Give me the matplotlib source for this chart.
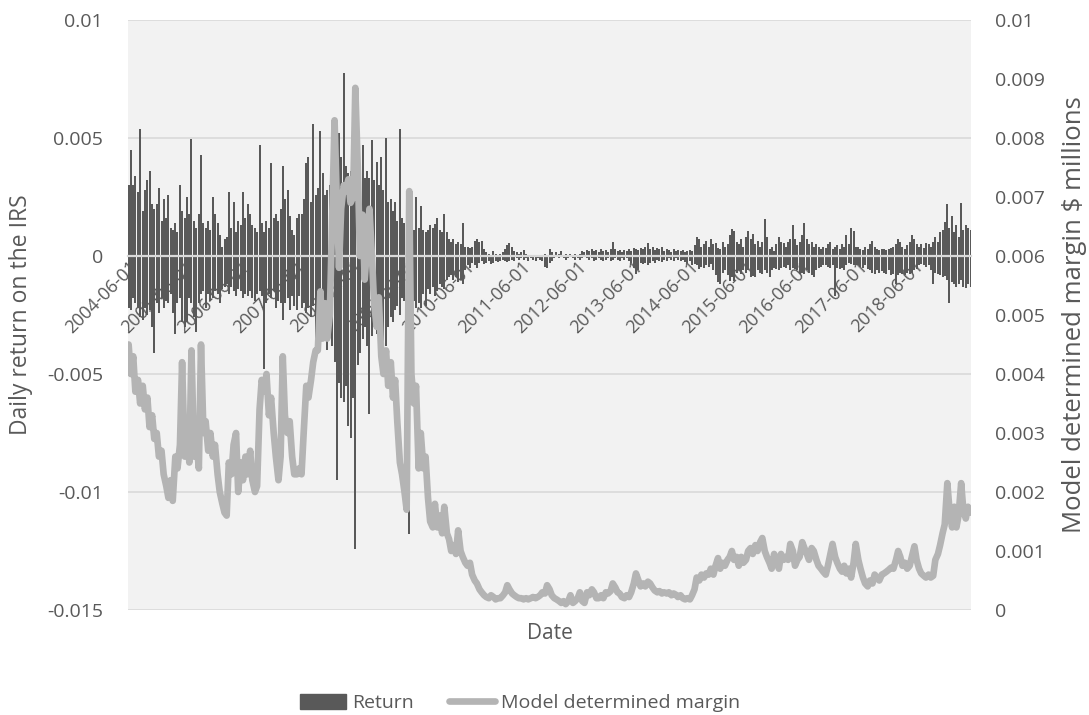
import numpy as np
import pandas as pd
import matplotlib
matplotlib.use('Agg')
import matplotlib.pyplot as plt
from matplotlib.patches import Patch
from matplotlib.lines import Line2D

plt.rcParams['font.family'] = ['Open Sans', 'DejaVu Sans']

# semi-monthly readings, 2004-06-01 .. 2019-06-01 (one row per year)
dates = pd.date_range('2004-06-01', periods=361, freq='SMS')

# model determined margin ($ millions, in units of 0.001)
margin = [
    4.5, 4.0, 4.3, 3.7, 3.9, 3.5, 3.8, 3.4, 3.6, 3.1, 3.3, 2.9, 3.0, 2.6, 2.7, 2.3, 2.1, 1.9, 2.2, 1.85, 2.6, 2.4, 2.8, 4.2,
    2.6, 3.2, 2.5, 4.4, 2.6, 2.9, 2.4, 4.5, 3.0, 3.2, 2.7, 3.0, 2.6, 2.8, 2.3, 2.0, 1.8, 1.65, 1.6, 2.5, 2.3, 2.8, 3.0, 2.0,
    2.5, 2.2, 2.6, 2.3, 2.7, 2.2, 2.0, 2.1, 3.4, 3.9, 3.7, 4.0, 3.3, 3.6, 3.0, 2.6, 2.2, 2.6, 4.3, 3.3, 3.0, 3.2, 2.6, 2.3,
    2.3, 2.4, 2.3, 3.0, 3.8, 3.6, 3.9, 4.2, 4.4, 4.4, 5.4, 4.6, 5.2, 4.6, 5.0, 6.5, 8.3, 7.0, 5.8, 6.8, 7.2, 7.1, 7.3, 6.9,
    7.0, 8.85, 7.5, 6.0, 6.7, 5.6, 6.2, 6.8, 6.0, 5.2, 4.8, 5.3, 4.3, 4.0, 4.4, 3.8, 4.2, 3.6, 3.9, 3.2, 2.5, 2.3, 2.0, 1.7,
    7.1, 4.0, 3.5, 3.8, 2.4, 3.0, 2.4, 2.6, 1.9, 1.5, 1.4, 1.8, 1.4, 1.6, 1.3, 1.75, 1.3, 1.2, 1.0, 1.1, 0.95, 1.35, 1.0, 0.9,
    0.8, 0.75, 0.8, 0.6, 0.5, 0.45, 0.35, 0.3, 0.25, 0.22, 0.2, 0.25, 0.22, 0.18, 0.2, 0.2, 0.25, 0.3, 0.42, 0.35, 0.28, 0.25, 0.22, 0.2,
    0.2, 0.18, 0.2, 0.18, 0.2, 0.22, 0.2, 0.22, 0.25, 0.3, 0.28, 0.42, 0.35, 0.25, 0.2, 0.18, 0.15, 0.12, 0.15, 0.1, 0.15, 0.25, 0.12, 0.15,
    0.2, 0.3, 0.15, 0.12, 0.3, 0.25, 0.35, 0.3, 0.2, 0.2, 0.25, 0.2, 0.3, 0.28, 0.32, 0.45, 0.38, 0.3, 0.28, 0.22, 0.2, 0.25, 0.22, 0.3,
    0.45, 0.62, 0.5, 0.4, 0.45, 0.4, 0.48, 0.45, 0.38, 0.33, 0.3, 0.32, 0.28, 0.3, 0.28, 0.3, 0.25, 0.28, 0.26, 0.22, 0.25, 0.2, 0.18, 0.2,
    0.18, 0.25, 0.35, 0.55, 0.5, 0.6, 0.55, 0.62, 0.6, 0.7, 0.6, 0.75, 0.88, 0.7, 0.8, 0.75, 0.85, 0.9, 1.0, 0.85, 0.9, 0.75, 0.9, 0.8,
    0.85, 1.0, 1.05, 0.95, 1.1, 1.0, 1.15, 1.22, 1.0, 0.9, 0.8, 0.7, 0.95, 0.85, 0.7, 0.95, 0.85, 0.9, 0.85, 1.12, 1.0, 0.75, 0.85, 0.9,
    1.15, 1.05, 0.95, 0.85, 1.05, 1.0, 0.85, 0.75, 0.7, 0.65, 0.6, 0.75, 0.95, 1.12, 0.9, 0.8, 0.7, 0.65, 0.75, 0.62, 0.7, 0.55, 0.8, 1.12,
    0.85, 0.7, 0.55, 0.45, 0.4, 0.5, 0.45, 0.6, 0.55, 0.5, 0.6, 0.62, 0.65, 0.68, 0.72, 0.7, 0.85, 1.0, 0.9, 0.75, 0.8, 0.7, 0.75, 0.9,
    1.08, 0.85, 0.7, 0.62, 0.58, 0.55, 0.6, 0.55, 0.58, 0.85, 0.95, 1.1, 1.3, 1.45, 2.15, 1.7, 1.4, 1.75, 1.4, 1.6, 2.15, 1.7, 1.55, 1.75,
    1.65,
]

# largest positive daily return in each half-month (units of 0.001)
ret_up = [
    3.0, 4.5, 3.0, 3.4, 2.7, 5.4, 1.9, 2.8, 3.2, 3.6, 2.2, 2.0, 2.2, 2.9, 1.5, 2.4, 1.6, 2.6, 1.2, 1.1, 1.4, 1.0, 3.0, 1.9,
    1.6, 2.5, 1.8, 4.95, 1.5, 1.2, 1.8, 4.3, 1.4, 1.2, 1.5, 1.1, 2.5, 1.8, 1.4, 0.9, 0.4, 0.7, 0.8, 2.7, 1.2, 2.3, 1.0, 1.5,
    1.3, 2.7, 1.6, 2.2, 1.8, 1.3, 1.2, 1.0, 4.7, 1.4, 1.0, 1.5, 1.2, 3.95, 1.6, 1.8, 1.5, 2.0, 3.8, 2.4, 2.8, 1.7, 1.1, 0.9,
    1.6, 1.8, 1.8, 2.4, 3.95, 4.2, 2.3, 5.6, 2.6, 2.9, 5.3, 3.5, 2.6, 2.8, 3.0, 3.2, 3.5, 4.5, 5.2, 4.2, 7.75, 3.8, 3.5, 3.6,
    3.4, 3.0, 3.6, 3.2, 4.7, 3.3, 3.6, 3.3, 4.9, 3.2, 4.0, 3.0, 4.2, 2.8, 5.0, 2.3, 2.4, 1.9, 2.3, 1.5, 5.4, 1.6, 1.4, 1.3,
    1.2, 1.4, 1.1, 2.5, 1.2, 2.1, 1.1, 1.0, 1.1, 1.3, 1.2, 1.35, 1.6, 1.1, 1.0, 1.8, 1.0, 0.7, 0.6, 0.7, 0.5, 0.6, 0.5, 1.4,
    0.4, 0.4, 0.35, 0.4, 0.65, 0.7, 0.6, 0.65, 0.3, 0.15, 0.1, 0.05, 0.2, 0.1, 0.05, 0.1, 0.15, 0.3, 0.45, 0.55, 0.4, 0.2, 0.15, 0.1,
    0.15, 0.25, 0.1, 0.05, 0.05, 0.05, 0.03, 0.05, 0.02, 0.05, 0.1, 0.05, 0.3, 0.15, 0.05, 0.15, 0.1, 0.2, 0.05, 0.1, 0.05, 0.1, 0.05, 0.1,
    0.05, 0.1, 0.2, 0.15, 0.25, 0.2, 0.3, 0.2, 0.25, 0.15, 0.3, 0.2, 0.25, 0.15, 0.3, 0.6, 0.3, 0.2, 0.25, 0.15, 0.25, 0.2, 0.3, 0.2,
    0.35, 0.3, 0.25, 0.35, 0.3, 0.4, 0.55, 0.3, 0.4, 0.25, 0.35, 0.3, 0.4, 0.2, 0.3, 0.25, 0.15, 0.3, 0.2, 0.25, 0.2, 0.25, 0.15, 0.2,
    0.25, 0.2, 0.45, 0.8, 0.7, 0.4, 0.5, 0.65, 0.4, 0.7, 0.5, 0.55, 0.35, 0.3, 0.6, 0.4, 0.5, 0.9, 1.14, 1.05, 0.6, 0.5, 0.7, 0.4,
    0.8, 1.05, 0.7, 0.95, 0.5, 0.65, 0.4, 0.6, 1.56, 0.8, 0.3, 0.4, 0.2, 0.5, 0.8, 0.6, 0.55, 0.4, 0.6, 0.7, 1.3, 0.7, 0.45, 0.6,
    0.9, 1.4, 0.7, 0.5, 0.6, 0.4, 0.5, 0.4, 0.3, 0.4, 0.35, 0.5, 0.6, 0.3, 0.4, 0.45, 0.3, 0.5, 0.4, 0.9, 0.5, 1.2, 1.05, 0.4,
    0.4, 0.3, 0.25, 0.4, 0.3, 0.5, 0.65, 0.4, 0.3, 0.25, 0.3, 0.3, 0.25, 0.3, 0.35, 0.4, 0.5, 0.7, 0.6, 0.4, 0.3, 0.45, 0.6, 0.9,
    0.7, 0.5, 0.4, 0.5, 0.35, 0.55, 0.5, 0.4, 0.6, 0.8, 0.6, 1.0, 1.1, 1.45, 2.2, 1.2, 1.7, 1.0, 1.3, 0.8, 2.25, 1.1, 1.3, 1.2,
    1.1,
]

# largest negative daily return in each half-month (size, units of 0.001)
ret_down = [
    2.2, 2.3, 1.8, 2.0, 2.2, 2.6, 2.7, 2.2, 2.5, 2.3, 3.0, 4.1, 2.0, 2.4, 1.8, 2.2, 1.9, 2.0, 1.6, 2.4, 3.3, 2.0, 1.8, 2.8,
    3.0, 2.8, 1.8, 2.0, 2.6, 3.2, 2.0, 1.6, 1.5, 2.2, 1.6, 1.9, 1.8, 1.5, 1.6, 2.0, 1.4, 1.3, 1.2, 1.6, 1.3, 1.5, 1.7, 1.4,
    1.5, 1.8, 1.6, 1.7, 1.5, 1.8, 1.9, 1.6, 1.5, 1.7, 4.8, 2.0, 1.6, 1.8, 1.5, 2.2, 1.9, 2.0, 2.7, 2.0, 1.8, 2.3, 1.7, 2.1,
    2.3, 1.7, 2.2, 2.0, 2.4, 2.2, 2.6, 2.1, 3.9, 2.8, 2.5, 3.3, 3.6, 4.0, 3.4, 3.8, 4.5, 9.5, 5.4, 6.0, 6.2, 5.5, 7.2, 7.7,
    6.0, 12.4, 4.6, 4.1, 3.5, 3.0, 3.8, 6.7, 3.4, 3.0, 3.3, 3.8, 3.0, 4.4, 3.8, 3.0, 2.6, 2.8, 2.3, 2.1, 2.5, 1.8, 1.9, 1.6,
    11.8, 2.0, 1.9, 2.2, 2.0, 2.2, 1.6, 2.1, 1.4, 1.6, 1.3, 1.7, 1.5, 1.2, 1.3, 1.4, 1.0, 0.9, 0.8, 1.0, 0.9, 1.1, 1.0, 1.2,
    0.6, 0.4, 0.5, 0.3, 0.4, 0.5, 0.3, 0.2, 0.35, 0.3, 0.2, 0.35, 0.3, 0.2, 0.25, 0.2, 0.15, 0.2, 0.25, 0.2, 0.15, 0.2, 0.1, 0.15,
    0.1, 0.15, 0.1, 0.2, 0.1, 0.15, 0.2, 0.1, 0.15, 0.2, 0.45, 0.5, 0.3, 0.2, 0.1, 0.05, 0.1, 0.05, 0.1, 0.15, 0.1, 0.05, 0.1, 0.15,
    0.1, 0.15, 0.1, 0.05, 0.1, 0.15, 0.1, 0.2, 0.15, 0.1, 0.15, 0.2, 0.15, 0.1, 0.2, 0.15, 0.1, 0.15, 0.2, 0.1, 0.15, 0.1, 0.2, 0.3,
    0.5, 0.75, 0.6, 0.3, 0.35, 0.3, 0.4, 0.3, 0.2, 0.3, 0.15, 0.2, 0.25, 0.15, 0.2, 0.1, 0.15, 0.2, 0.1, 0.15, 0.2, 0.15, 0.25, 0.3,
    0.2, 0.4, 0.35, 0.4, 0.55, 0.45, 0.5, 0.4, 0.45, 0.35, 0.6, 0.8, 1.1, 1.2, 0.7, 0.6, 0.8, 1.05, 0.9, 1.05, 0.7, 0.6, 0.75, 0.6,
    0.7, 0.6, 0.9, 0.85, 0.9, 0.6, 0.7, 0.75, 0.6, 0.7, 0.9, 0.6, 0.5, 0.55, 0.6, 0.5, 0.45, 0.5, 0.4, 0.6, 0.5, 0.55, 0.6, 0.75,
    0.7, 0.75, 0.6, 0.7, 0.8, 0.9, 0.6, 0.5, 0.45, 0.4, 0.4, 0.45, 0.5, 0.4, 1.7, 0.5, 0.55, 0.5, 0.6, 0.4, 0.3, 0.35, 0.4, 0.4,
    0.4, 0.45, 0.5, 0.4, 0.55, 0.6, 0.7, 0.75, 0.6, 0.7, 0.65, 0.7, 0.75, 0.6, 0.8, 0.75, 1.2, 0.8, 0.7, 0.75, 0.8, 0.7, 0.75, 0.7,
    0.6, 0.55, 0.4, 0.35, 0.4, 0.45, 0.4, 0.6, 1.2, 0.7, 0.75, 0.8, 0.9, 0.85, 1.0, 2.0, 1.1, 1.2, 1.3, 1.2, 1.0, 1.3, 1.35, 1.2,
    1.3,
]

left_ticks = [-0.015, -0.01, -0.005, 0, 0.005, 0.01]
left_labels = ['-0.015', '-0.01', '-0.005', '0', '0.005', '0.01']
right_ticks = [i / 1000 for i in range(11)]
right_labels = ['0', '0.001', '0.002', '0.003', '0.004', '0.005', '0.006', '0.007', '0.008', '0.009', '0.01']
label_dates = pd.date_range('2004-06-01', '2018-06-01', freq='12MS')

bar_col = '#595959'
line_col = '#b4b4b4'
txt_col = '#595959'
grid_col = '#d9d9d9'

up = np.array(ret_up) / 1000
down = -np.array(ret_down) / 1000
marg = np.array(margin) / 1000

fig = plt.figure(figsize=(10.89, 7.15), dpi=100)
ax = fig.add_axes([128 / 1089, 105 / 715, 843 / 1089, 590 / 715])
ax.set_facecolor('#f2f2f2')

# gridlines behind the bars
for t in left_ticks:
    if t != 0:
        ax.axhline(t, color=grid_col, lw=1.2, zorder=0.5)

ax.bar(dates, up, width=13, color=bar_col, linewidth=0, zorder=2)
ax.bar(dates, down, width=13, color=bar_col, linewidth=0, zorder=2)

ax2 = ax.twinx()
ax2.plot(dates, marg, color=line_col, lw=4.8, solid_joinstyle='round', solid_capstyle='round')

ax.set_ylim(-0.015, 0.01)
ax2.set_ylim(0, 0.01)
ax.set_xlim(pd.Timestamp('2004-05-28'), pd.Timestamp('2019-06-04'))

ax.set_yticks(left_ticks)
ax.set_yticklabels(left_labels)
ax.tick_params(axis='y', length=0, pad=18, labelsize=14, colors=txt_col)
for s in ['top', 'left', 'right']:
    ax.spines[s].set_visible(False)
ax.spines['bottom'].set_position(('data', 0))
ax.spines['bottom'].set_color(grid_col)
ax.spines['bottom'].set_linewidth(1.6)
ax.spines['bottom'].set_zorder(3)
ax.tick_params(axis='x', length=0, labelbottom=False)

# date labels drawn from the twin axes so they sit on top of bars and line
ax2.xaxis.set_visible(True)
ax2.spines['bottom'].set_position(('data', 0.006))
for s in ax2.spines.values():
    s.set_visible(False)
ax2.set_xticks(label_dates)
ax2.set_xticklabels([d.strftime('%Y-%m-%d') for d in label_dates])
ax2.tick_params(axis='x', length=0, pad=1, labelsize=13, colors=txt_col,
                labelrotation=45, labelbottom=True, bottom=True)
for lbl in ax2.get_xticklabels():
    lbl.set_horizontalalignment('right')
    lbl.set_verticalalignment('top')
    lbl.set_rotation_mode('anchor')

ax2.set_yticks(right_ticks)
ax2.set_yticklabels(right_labels)
ax2.tick_params(axis='y', length=0, pad=17, labelsize=14, colors=txt_col)

ax.set_ylabel('Daily return on the IRS', fontsize=16.5, color=txt_col)
ax.yaxis.set_label_coords(-0.113, 0.5)
ax.set_xlabel('Date', fontsize=15, color=txt_col)
ax.xaxis.set_label_coords(0.5, -0.022)
ax2.set_ylabel('Model determined margin $ millions', fontsize=18.5, color=txt_col)
ax2.yaxis.set_label_coords(1.108, 0.5)

handles = [Patch(color=bar_col, label='Return'),
           Line2D([0], [0], color=line_col, lw=4.8, solid_capstyle='round', label='Model determined margin')]
fig.legend(handles=handles, loc='center', bbox_to_anchor=(520 / 1089, 1 - 703 / 715), ncol=2,
           frameon=False, fontsize=14, labelcolor=txt_col, handlelength=2.4, handleheight=0.8,
           columnspacing=1.8, handletextpad=0.3)

fig.savefig('out.png', dpi=100)
